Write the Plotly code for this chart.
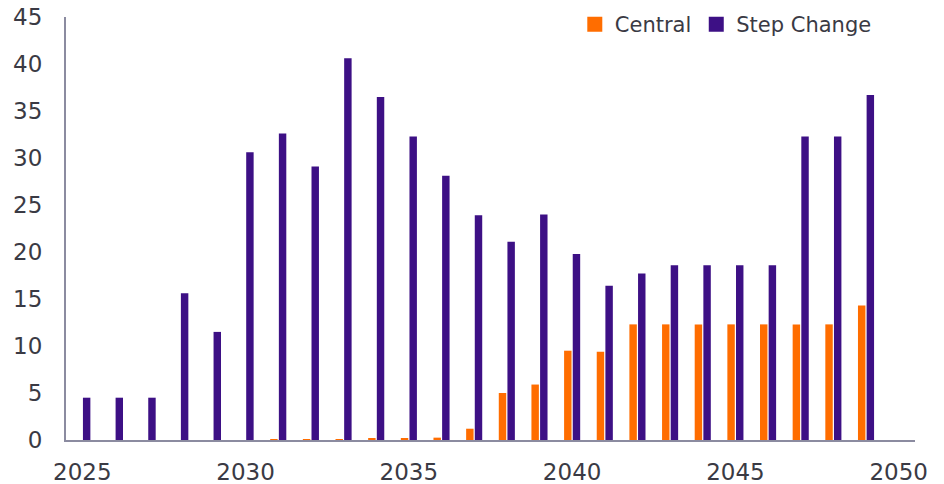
import plotly.graph_objects as go

years = list(range(2025, 2050))
central = [0, 0, 0, 0, 0, 0, 0.1, 0.1, 0.1, 0.15, 0.2, 0.25, 1.2, 5.0, 5.9, 9.5, 9.4,
           12.3, 12.3, 12.3, 12.3, 12.3, 12.3, 12.3, 14.3]
step_change = [4.5, 4.5, 4.5, 15.6, 11.5, 30.6, 32.6, 29.1, 40.6, 36.5, 32.3, 28.1, 23.9,
               21.1, 24.0, 19.8, 16.4, 17.7, 18.6, 18.6, 18.6, 18.6, 32.3, 32.3, 36.7]
series_names = ["Central", "Step Change"]
colors = ["#FF6D00", "#3D1085"]
y_ticks = list(range(0, 50, 5))

FONT = "DejaVu Sans"
TXT = "#3a3a44"

fig = go.Figure()
for name, vals, col in zip(series_names, [central, step_change], colors):
    fig.add_trace(go.Bar(x=years, y=vals, name=name, marker_color=col,
                         marker_line_width=0, showlegend=False))
    fig.add_trace(go.Scatter(x=[None], y=[None], mode="markers", name=name,
                             marker=dict(symbol="square", size=15, color=col)))

fig.update_layout(
    width=944, height=484,
    margin=dict(l=66, r=29, t=17, b=44, autoexpand=False),
    paper_bgcolor="white", plot_bgcolor="white",
    barmode="group", bargap=0.47, bargroupgap=0.14,
    font=dict(family=FONT, size=23, color=TXT),
    legend=dict(orientation="h", x=0.955, xanchor="right", y=0.982, yanchor="middle",
                font=dict(size=21, color=TXT), bgcolor="rgba(0,0,0,0)",
                itemwidth=30, tracegroupgap=0),
)
fig.update_xaxes(range=[2024.5, 2050.5], tick0=2025, dtick=5, showgrid=False,
                 showline=True, linecolor="#8b8ba0", linewidth=2,
                 ticks="outside", ticklen=10, tickcolor="rgba(0,0,0,0)",
                 tickfont=dict(size=23, color=TXT), zeroline=False, automargin=False)
fig.update_yaxes(range=[0, 45], tickvals=y_ticks, showgrid=False,
                 showline=True, linecolor="#8b8ba0", linewidth=2,
                 ticks="outside", ticklen=17, tickcolor="rgba(0,0,0,0)",
                 tickfont=dict(size=23, color=TXT), zeroline=False, automargin=False)

fig.write_html("out.html", config={"displayModeBar": False},
               post_script="document.body.style.margin='0';document.body.style.overflow='hidden';")
